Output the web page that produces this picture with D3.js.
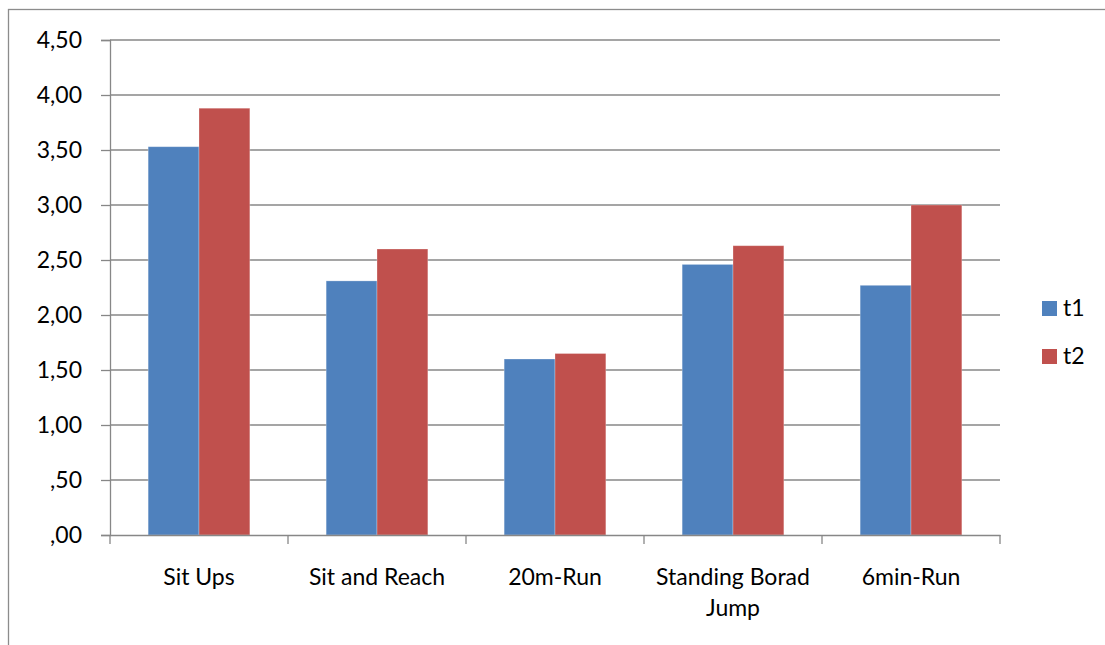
<!DOCTYPE html>
<html>
<head>
<meta charset="utf-8">
<script src="https://cdn.jsdelivr.net/npm/d3@7"></script>
<style>
  html, body { margin: 0; padding: 0; background: #fff; }
  svg { display: block; font-family: Lato, "Open Sans", sans-serif; }
</style>
</head>
<body>
<svg id="chart" width="1105" height="645"></svg>
<script>
// Fitness test scores at two time points
const categories = [["Sit Ups"], ["Sit and Reach"], ["20m-Run"], ["Standing Borad", "Jump"], ["6min-Run"]];
const seriesNames = ["t1", "t2"];
const t1 = [3.53, 2.31, 1.60, 2.46, 2.27];
const t2 = [3.88, 2.60, 1.65, 2.63, 3.00];
const tickValues = [0, 0.5, 1, 1.5, 2, 2.5, 3, 3.5, 4, 4.5];
const tickLabels = [",00", ",50", "1,00", "1,50", "2,00", "2,50", "3,00", "3,50", "4,00", "4,50"];
const colors = ["#4F81BD", "#C0504D"];

const svg = d3.select("#chart");
const plot = { left: 110, right: 1000, top: 40, bottom: 535 };
const gridColor = "#878787";
const fontSize = 23;

// outer chart frame
svg.append("rect")
  .attr("x", 8.5).attr("y", 9.5)
  .attr("width", 1200).attr("height", 800)
  .attr("fill", "none").attr("stroke", "#8c8c8c").attr("stroke-width", 1.3);

const catIdx = categories.map((d, i) => i);
const x = d3.scaleBand().domain(catIdx).range([plot.left, plot.right]).paddingInner(0).paddingOuter(0);
const y = d3.scaleLinear().domain([0, 4.5]).range([plot.bottom, plot.top]);

// horizontal gridlines
svg.append("g").selectAll("line")
  .data(tickValues.filter(v => v > 0))
  .join("line")
  .attr("x1", plot.left).attr("x2", plot.right)
  .attr("y1", d => y(d)).attr("y2", d => y(d))
  .attr("stroke", gridColor).attr("stroke-width", 1.3);

// bars
const band = x.bandwidth();
const barW = band / 3.5;
const sub = d3.scaleBand().domain(seriesNames).range([0, 2 * barW]);
const values = [t1, t2];
seriesNames.forEach((name, s) => {
  svg.append("g").selectAll("rect")
    .data(values[s])
    .join("rect")
    .attr("x", (d, i) => x(i) + (band - 2 * barW) / 2 + sub(name))
    .attr("y", d => y(d))
    .attr("width", sub.bandwidth())
    .attr("height", d => y(0) - y(d))
    .attr("fill", colors[s])
    .attr("stroke", "rgba(255,255,255,0.35)")
    .attr("stroke-width", 0.8);
});

// y axis
const yAxis = d3.axisLeft(y)
  .tickValues(tickValues)
  .tickFormat((d, i) => tickLabels[i])
  .tickSize(9)
  .tickPadding(19);
const gy = svg.append("g").attr("transform", `translate(${plot.left},0)`).call(yAxis);
gy.attr("font-size", fontSize).attr("font-family", "Lato, 'Open Sans', sans-serif");
gy.select(".domain").attr("stroke", gridColor).attr("stroke-width", 1.3);
gy.selectAll(".tick line").attr("stroke", gridColor).attr("stroke-width", 1.3);
gy.selectAll(".tick text").attr("fill", "#000");

// x axis
const xAxis = d3.axisBottom(x).tickSize(0).tickFormat("");
const gx = svg.append("g").attr("transform", `translate(0,${plot.bottom})`).call(xAxis);
gx.select(".domain").attr("stroke", gridColor).attr("stroke-width", 1.3);
gx.selectAll(".tick").remove();

// category boundary tick marks
svg.append("g").selectAll("line")
  .data(d3.range(categories.length + 1))
  .join("line")
  .attr("x1", i => i < categories.length ? x(i) : plot.right)
  .attr("x2", i => i < categories.length ? x(i) : plot.right)
  .attr("y1", plot.bottom).attr("y2", plot.bottom + 9)
  .attr("stroke", gridColor).attr("stroke-width", 1.3);

// category labels
const labels = svg.append("g").selectAll("text")
  .data(categories)
  .join("text")
  .attr("x", (d, i) => x(i) + band / 2)
  .attr("y", 585)
  .attr("text-anchor", "middle")
  .attr("font-size", fontSize)
  .attr("fill", "#000");
labels.each(function(lines) {
  const t = d3.select(this);
  lines.forEach((ln, k) => {
    t.append("tspan")
      .attr("x", t.attr("x"))
      .attr("dy", k === 0 ? 0 : 31)
      .text(ln);
  });
});

// legend
const legend = svg.append("g").selectAll("g")
  .data(seriesNames)
  .join("g")
  .attr("transform", (d, i) => `translate(1042,${301 + i * 48})`);
legend.append("rect")
  .attr("width", 15).attr("height", 15)
  .attr("fill", (d, i) => colors[i]);
legend.append("text")
  .attr("x", 21).attr("y", 15)
  .attr("font-size", fontSize)
  .attr("fill", "#000")
  .text(d => d);
</script>
</body>
</html>
